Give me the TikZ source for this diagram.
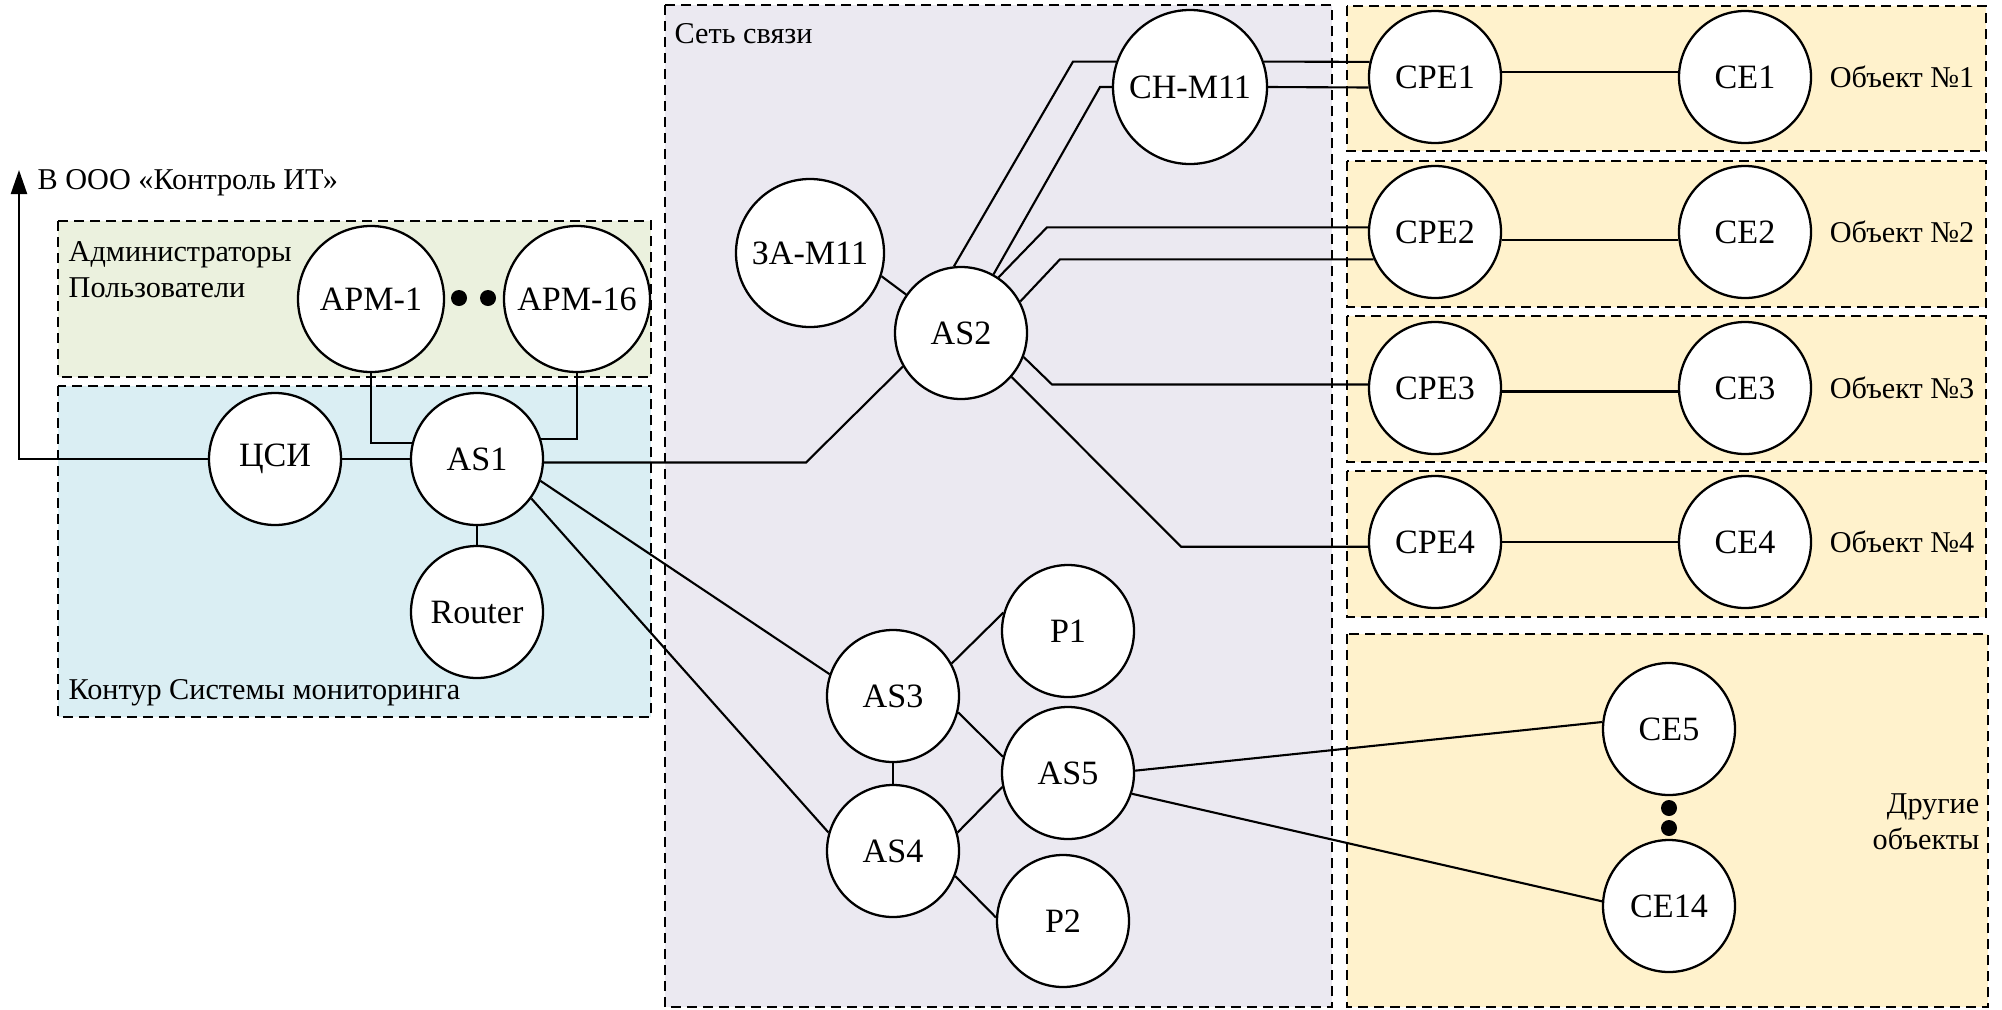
\documentclass[tikz,border=0pt]{standalone}
\usepackage{fontspec}
\setmainfont{Liberation Serif}
\usetikzlibrary{arrows.meta}
\definecolor{verdeclaro}{HTML}{EBF1DE}
\definecolor{azulclaro}{HTML}{DAEEF3}
\definecolor{lilaclaro}{HTML}{EBE9F1}
\definecolor{amarilloclaro}{HTML}{FFF2CC}
\begin{document}
\begin{tikzpicture}[x=0.1mm,y=-0.1mm]
\tikzset{
    nodo/.style={circle, draw, fill=white, line width=0.65pt, inner sep=0pt, minimum size=13.2mm, font=\fontsize{9.7pt}{11pt}\selectfont},
    etiqueta/.style={inner sep=0pt, font=\fontsize{8.6pt}{10.2pt}\selectfont},
    zona/.style={draw, line width=0.6pt, dash pattern=on 1mm off 0.6mm},
    enlace/.style={line width=0.6pt}
}
\useasboundingbox (0,0) rectangle (2002,1009);
% zonas
\path[zona, fill=verdeclaro] (58,221) rectangle (651,377);
\path[zona, fill=azulclaro] (58,386) rectangle (651,717);
\path[zona, fill=lilaclaro] (665,5) rectangle (1332,1007);
\path[zona, fill=amarilloclaro] (1347,6) rectangle (1986,151);
\path[zona, fill=amarilloclaro] (1347,161) rectangle (1986,307);
\path[zona, fill=amarilloclaro] (1347,316) rectangle (1986,462);
\path[zona, fill=amarilloclaro] (1347,471) rectangle (1986,617);
\path[zona, fill=amarilloclaro] (1347,634) rectangle (1988,1007);
\node[etiqueta, anchor=west] (salida) at (37,183) {В ООО «Контроль ИТ»};
\node[etiqueta, anchor=west, align=left] (usuarios) at (68,270) {Администраторы\\Пользователи};
\node[etiqueta, anchor=west] (contorno) at (68,693) {Контур Системы мониторинга};
\node[etiqueta, anchor=west] (red) at (674,34) {Сеть связи};
\node[etiqueta, anchor=east] (objeto1) at (1975,77) {Объект №1};
\node[etiqueta, anchor=east] (objeto2) at (1975,232) {Объект №2};
\node[etiqueta, anchor=east] (objeto3) at (1975,388) {Объект №3};
\node[etiqueta, anchor=east] (objeto4) at (1975,542) {Объект №4};
\node[etiqueta, anchor=east, align=right] (otros) at (1980,822) {Другие\\объекты};
% nodos
\node[nodo, minimum size=14.6mm] (apm1) at (371,299) {АРМ-1};
\node[nodo, minimum size=14.6mm] (apm16) at (577,299) {АРМ-16};
\node[nodo] (csi) at (275,459) {ЦСИ};
\node[nodo] (as1) at (477,459) {AS1};
\node[nodo] (router) at (477,612) {Router};
\node[nodo, minimum size=14.8mm] (za) at (810,253) {ЗА-М11};
\node[nodo] (as2) at (961,333) {AS2};
\node[nodo, minimum size=15.4mm] (ch) at (1190,87) {СН-М11};
\node[nodo] (cpe1) at (1435,77) {CPE1};
\node[nodo] (cpe2) at (1435,232) {CPE2};
\node[nodo] (cpe3) at (1435,388) {CPE3};
\node[nodo] (cpe4) at (1435,542) {CPE4};
\node[nodo] (ce1) at (1745,77) {CE1};
\node[nodo] (ce2) at (1745,232) {CE2};
\node[nodo] (ce3) at (1745,388) {CE3};
\node[nodo] (ce4) at (1745,542) {CE4};
\node[nodo] (as3) at (893,696) {AS3};
\node[nodo] (as4) at (893,851) {AS4};
\node[nodo] (as5) at (1068,773) {AS5};
\node[nodo] (p1) at (1068,631) {P1};
\node[nodo] (p2) at (1063,921) {P2};
\node[nodo] (ce5) at (1669,729) {CE5};
\node[nodo] (ce14) at (1669,906) {CE14};
% puntos
\fill (459,298) circle (0.8mm);
\fill (488,298) circle (0.8mm);
\fill (1669,808) circle (0.8mm);
\fill (1669,828) circle (0.8mm);
% enlaces
\coordinate (arriba) at (19,170);
\draw[enlace, -{Triangle[length=2.4mm, width=1.6mm]}] (csi.west) -| (arriba);
\draw[enlace] (csi.east) -- (as1.west);
\draw[enlace] (apm1.south) |- (as1.166);
\draw[enlace] (apm16.south) |- (as1.17);
\draw[enlace] (as1.south) -- (router.north);
\draw[enlace] (as1.-3) -- (as1.-3 -| 806,0) -- (as2.210);
\draw[enlace] (as1.-19) -- (as3.161);
\draw[enlace] (as1.-36) -- (as4.164);
\draw[enlace] (za.-18) -- (as2.145);
\draw[enlace] (as2.96) -- (ch.161 -| 1073,0) -- (ch.161);
\draw[enlace] (as2.61) -- (ch.west -| 1100,0) -- (ch.west);
\draw[enlace] (ch.19) -- (cpe1.167);
\draw[enlace] (ch.east) -- (cpe1.189);
\draw[enlace] (as2.56) -- (cpe2.176 -| 1047,0) -- (cpe2.176);
\draw[enlace] (as2.28) -- (cpe2.204 -| 1060,0) -- (cpe2.204);
\draw[enlace] (as2.-21) -- (cpe3.177 -| 1052,0) -- (cpe3.177);
\draw[enlace] (as2.-41) -- (cpe4.184 -| 1181,0) -- (cpe4.184);
\draw[enlace] (cpe1.4) -- (ce1.176);
\draw[enlace] (cpe2.-7) -- (ce2.187);
\draw[enlace] (cpe3.-3) -- (ce3.183);
\draw[enlace] (cpe4.east) -- (ce4.west);
\draw[enlace] (as3.29) -- (p1.164);
\draw[enlace] (as3.-14) -- (as5.166);
\draw[enlace] (as3.south) -- (as4.north);
\draw[enlace] (as4.16) -- (as5.192);
\draw[enlace] (as4.-22) -- (p2.177);
\draw[enlace] (as5.2) -- (ce5.174);
\draw[enlace] (as5.-18) -- (ce14.176);
\end{tikzpicture}
\end{document}
